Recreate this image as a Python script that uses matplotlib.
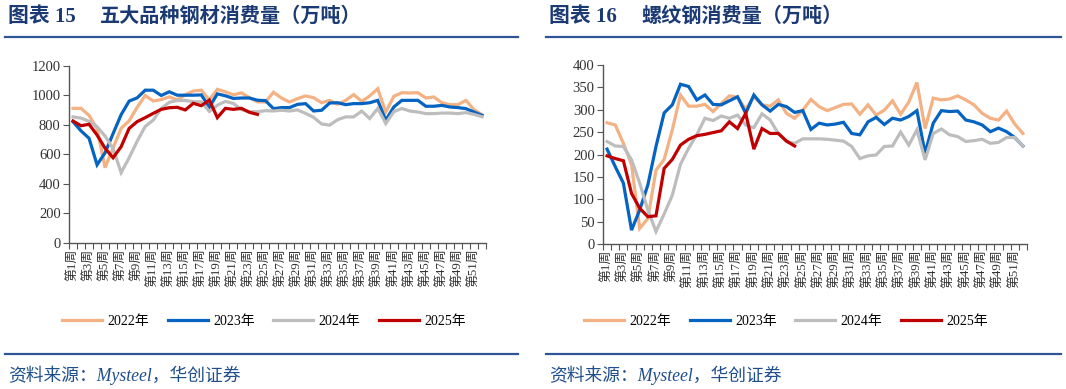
import numpy as np
import matplotlib
matplotlib.use("Agg")
import matplotlib.pyplot as plt

#----------------------------data----------------------------
weeks = ["第%d周" % i for i in range(1, 53)]
years = ["2022年", "2023年", "2024年", "2025年"]
colors = ["#F4B183", "#0563C1", "#BDBDBD", "#C00000"]

# 五大品种钢材消费量 (万吨)
steel_2022 = [913, 913, 865, 775, 511, 645, 777, 828, 920, 1000,
              963, 972, 991, 970, 1005, 1030, 1036, 970, 1042, 1025,
              1005, 1018, 985, 957, 956, 1022, 983, 956, 979, 997,
              985, 951, 967, 940, 967, 1006, 960, 997, 1046, 888,
              994, 1019, 1017, 1019, 983, 990, 951, 938, 938, 967,
              904, 870]
steel_2023 = [822, 760, 710, 530, 612, 742, 870, 962, 984, 1036,
              1036, 1000, 1025, 1002, 1002, 1002, 1004, 921, 1011, 998,
              980, 983, 983, 968, 965, 911, 918, 918, 940, 945,
              895, 900, 949, 951, 938, 945, 945, 951, 967, 832,
              922, 967, 967, 967, 927, 927, 933, 922, 918, 911,
              888, 865]
steel_2024 = [855, 847, 825, 788, 725, 640, 477, 578, 690, 790,
              833, 912, 954, 966, 966, 958, 957, 892, 934, 960,
              946, 904, 890, 890, 897, 895, 900, 895, 902, 879,
              852, 807, 799, 836, 855, 855, 894, 844, 912, 810,
              890, 912, 895, 888, 877, 877, 881, 881, 877, 884,
              872, 856]
steel_2025 = [827, 795, 805, 732, 642, 578, 653, 777, 823, 850,
              879, 906, 917, 920, 902, 947, 931, 969, 850, 913,
              906, 913, 886, 872]

# 螺纹钢消费量 (万吨)
rebar_2022 = [271, 266, 225, 177, 35, 57, 165, 189, 255, 333,
              308, 308, 312, 296, 314, 331, 328, 301, 329, 311,
              308, 322, 292, 281, 299, 323, 307, 298, 305, 312,
              313, 290, 311, 288, 299, 320, 290, 317, 361, 258,
              326, 322, 324, 331, 322, 311, 292, 281, 277, 297,
              268, 247]
rebar_2023 = [212, 173, 136, 31, 76, 132, 218, 293, 311, 357,
              352, 322, 333, 312, 311, 320, 329, 292, 333, 311,
              297, 312, 307, 294, 298, 256, 270, 266, 268, 272,
              247, 244, 273, 283, 267, 281, 277, 285, 298, 203,
              270, 298, 296, 297, 277, 273, 266, 251, 259, 251,
              238, 219]
rebar_2024 = [229, 219, 218, 188, 136, 76, 28, 67, 109, 178,
              214, 244, 281, 276, 286, 281, 288, 266, 260, 291,
              277, 247, 229, 225, 235, 235, 235, 234, 232, 230,
              218, 191, 197, 199, 218, 219, 250, 221, 255, 188,
              247, 257, 244, 240, 229, 231, 234, 225, 227, 238,
              238, 219]
rebar_2025 = [197, 191, 186, 113, 80, 61, 63, 169, 189, 221,
              234, 242, 245, 249, 253, 273, 258, 292, 212, 258,
              247, 247, 230, 219]

#----------------------------style----------------------------
serif_cjk = ["Liberation Serif", "Noto Sans CJK SC"]
title_color = "#1B3A73"
rule_color = "#2F5597"
text_color = "#333333"

W, H = 1066, 389
fig = plt.figure(figsize=(W / 100, H / 100), dpi=100)


def fx(px):
    return px / W


def fy(py):
    return 1 - py / H


def draw_panel(rect, series, ymax, ystep, legend_x):
    ax = fig.add_axes(rect)
    x = np.arange(len(weeks))
    for vals, c, lab in zip(series, colors, years):
        ax.plot(x[:len(vals)], vals, color=c, lw=2.3, label=lab,
                solid_joinstyle="miter")
    ax.set_xlim(-0.5, len(weeks) - 0.5)
    ax.set_ylim(0, ymax)
    ax.set_yticks(np.arange(0, ymax + 1, ystep))
    ax.set_xticks(x[::2])
    ax.set_xticklabels(weeks[::2], rotation=90, family=serif_cjk,
                       fontsize=9.3, color=text_color)
    ax.set_xticks(np.arange(-0.5, len(weeks)), minor=True)
    ax.tick_params(axis="x", which="major", length=0, pad=4)
    ax.tick_params(axis="x", which="minor", length=4, width=0.8,
                   color="#555555", direction="out")
    ax.tick_params(axis="y", length=4, width=0.8, color="#555555",
                   labelsize=10.5, labelcolor=text_color, pad=2)
    for lbl in ax.get_yticklabels():
        lbl.set_family(serif_cjk)
    for s in ["top", "right"]:
        ax.spines[s].set_visible(False)
    for s in ["left", "bottom"]:
        ax.spines[s].set_color("#555555")
        ax.spines[s].set_linewidth(1.0)
    fig.legend(*ax.get_legend_handles_labels(), loc="center",
               bbox_to_anchor=(fx(legend_x), fy(321)), ncol=4,
               frameon=False, handlelength=2.9, handletextpad=0.4,
               columnspacing=1.3,
               prop={"family": serif_cjk, "size": 10})
    return ax


#----------------------------panel 15----------------------------
draw_panel([fx(69), fy(243), fx(486) - fx(69), fy(66) - fy(243)],
           [steel_2022, steel_2023, steel_2024, steel_2025],
           1200, 200, 264)

#----------------------------panel 16----------------------------
draw_panel([fx(603), fy(244), fx(1027) - fx(603), fy(65) - fy(244)],
           [rebar_2022, rebar_2023, rebar_2024, rebar_2025],
           400, 50, 786)

#----------------------------titles, rules and sources----------------------------
for x0, x1, num, name in [(5, 518, "图表 15", "五大品种钢材消费量（万吨）"),
                          (546, 1061, "图表 16", "螺纹钢消费量（万吨）")]:
    fig.text(fx(x0 + 3), fy(17), num, family=serif_cjk, weight="bold",
             fontsize=15, color=title_color, va="center")
    fig.text(fx(x0 + 95), fy(17), name, family=serif_cjk, weight="bold",
             fontsize=14.5, color=title_color, va="center")
    fig.add_artist(plt.Line2D([fx(x0), fx(x1)], [fy(37), fy(37)],
                              color=rule_color, lw=1.6))
    fig.add_artist(plt.Line2D([fx(x0), fx(x1)], [fy(354), fy(354)],
                              color=rule_color, lw=1.6))
    fig.text(fx(x0 + 3), fy(375), "资料来源：Mysteel，华创证券",
             family=serif_cjk, style="italic", fontsize=12.8,
             color="#1F4E8C", va="center")

fig.savefig("out.png", dpi=100)
